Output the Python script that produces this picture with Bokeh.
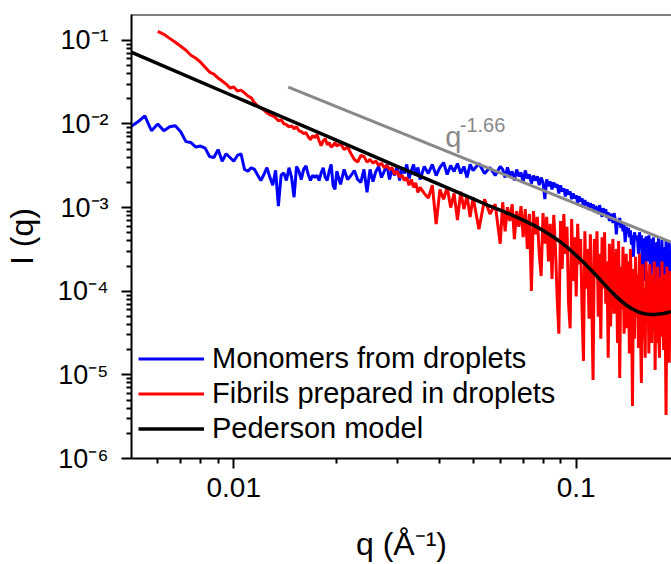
from bokeh.plotting import figure
from bokeh.models import FixedTicker, Span, Label, Legend, LegendItem, Range1d
from bokeh.embed import file_html
from bokeh.resources import INLINE

# ---------------- data ----------------
q_low = [0.00500, 0.00525, 0.00550, 0.00575, 0.00600, 0.00625, 0.00650, 0.00675, 0.00700, 0.00725,
         0.00750, 0.00775, 0.00800, 0.00825, 0.00850, 0.00875, 0.00900, 0.00925, 0.00950, 0.00975,
         0.01000, 0.01025, 0.01050, 0.01075, 0.01100, 0.01125, 0.01150, 0.01175, 0.01200, 0.01225,
         0.01250, 0.01275, 0.01300, 0.01325, 0.01350, 0.01375, 0.01400, 0.01425, 0.01450, 0.01475,
         0.01500, 0.01525, 0.01550, 0.01575, 0.01600, 0.01625, 0.01650, 0.01675, 0.01700, 0.01725,
         0.01750, 0.01775, 0.01800, 0.01825, 0.01850, 0.01875, 0.01900, 0.01925, 0.01950, 0.01975,
         0.02000]
q_mid = [0.0205, 0.0210, 0.0215, 0.0220, 0.0225, 0.0230, 0.0235, 0.0240, 0.0245, 0.0250,
         0.0255, 0.0260, 0.0265, 0.0270, 0.0275, 0.0280, 0.0285, 0.0290, 0.0295, 0.0300,
         0.0305, 0.0310, 0.0315, 0.0320, 0.0325, 0.0330, 0.0335, 0.0340, 0.0345, 0.0350,
         0.036, 0.037, 0.038, 0.039, 0.040, 0.041, 0.042, 0.043, 0.044, 0.045,
         0.046, 0.047, 0.048, 0.049, 0.050, 0.052, 0.054, 0.056, 0.058, 0.060]
q_high = [0.061, 0.062, 0.063, 0.064, 0.065, 0.066, 0.067, 0.068, 0.069, 0.070,
          0.071, 0.072, 0.073, 0.074, 0.075, 0.076, 0.077, 0.078, 0.079, 0.080,
          0.081, 0.082, 0.083, 0.084, 0.085, 0.086, 0.087, 0.088, 0.089, 0.090,
          0.091, 0.092, 0.093, 0.094, 0.095, 0.096, 0.097, 0.098, 0.099, 0.100,
          0.101, 0.102, 0.103, 0.104, 0.105, 0.106, 0.107, 0.108, 0.109, 0.110,
          0.111, 0.112, 0.113, 0.114, 0.115, 0.116, 0.117, 0.118, 0.119, 0.120,
          0.121, 0.122, 0.123, 0.124, 0.125, 0.126, 0.127, 0.128, 0.129, 0.130,
          0.131, 0.132, 0.133, 0.134, 0.135, 0.136, 0.137, 0.138, 0.139, 0.140,
          0.141, 0.142, 0.143, 0.144, 0.145, 0.146, 0.147, 0.148, 0.149, 0.150,
          0.151, 0.152, 0.153, 0.154, 0.155, 0.156, 0.157, 0.158, 0.159, 0.160,
          0.161, 0.162, 0.163, 0.164, 0.165, 0.166, 0.167, 0.168, 0.169, 0.170,
          0.171, 0.172, 0.173, 0.174, 0.175, 0.176, 0.177, 0.178, 0.179, 0.180,
          0.181, 0.182, 0.183, 0.184, 0.185, 0.186, 0.187, 0.188, 0.189, 0.190]

monomer_low = [9.26e-3, 1.06e-2, 1.25e-2, 8.30e-3, 1.00e-2, 8.30e-3, 9.26e-3, 9.5e-3, 8.08e-3, 6.15e-3,
               6.0e-3, 5.3e-3, 5.45e-3, 5.15e-3, 4.08e-3, 3.97e-3, 4.94e-3, 3.58e-3, 4.4e-3, 3.97e-3,
               3.58e-3, 4.2e-3, 4.4e-3, 2.86e-3, 2.73e-3, 3.0e-3, 2.86e-3, 2.44e-3, 2.11e-3, 2.49e-3,
               3.0e-3, 2.3e-3, 1.85e-3, 2.79e-3, 1.04e-3, 2.44e-3, 2.6e-3, 2.11e-3, 3.0e-3, 2.3e-3,
               1.33e-3, 3.1e-3, 2.73e-3, 2.17e-3, 2.86e-3, 3.15e-3, 2.49e-3, 2.11e-3, 2.44e-3, 2.3e-3,
               2.44e-3, 2.11e-3, 2.6e-3, 3.0e-3, 2.3e-3, 2.11e-3, 2.73e-3, 3.28e-3, 1.85e-3, 1.65e-3,
               2.73e-3]
monomer_mid = [1.90e-3, 2.86e-3, 2.17e-3, 2.42e-3, 2.78e-3, 2.17e-3, 2.0e-3, 2.86e-3, 1.52e-3, 2.86e-3,
               2.05e-3, 2.71e-3, 3.1e-3, 2.29e-3, 2.71e-3, 3.28e-3, 2.17e-3, 2.86e-3, 2.42e-3, 3.19e-3,
               2.11e-3, 3.02e-3, 2.56e-3, 3.28e-3, 2.23e-3, 2.78e-3, 3.28e-3, 2.42e-3, 3.02e-3, 2.17e-3,
               3.1e-3, 2.56e-3, 3.28e-3, 2.42e-3, 3.02e-3, 3.46e-3, 2.49e-3, 3.19e-3, 2.71e-3, 3.37e-3,
               2.56e-3, 3.1e-3, 2.29e-3, 3.28e-3, 2.78e-3, 3.37e-3, 2.56e-3, 3.02e-3, 2.42e-3, 3.1e-3]
monomer_high = [2.86e-3, 2.29e-3, 3.02e-3, 2.42e-3, 2.71e-3, 2.11e-3, 2.86e-3, 2.36e-3, 2.63e-3, 2.0e-3,
                2.78e-3, 2.23e-3, 2.49e-3, 1.94e-3, 2.42e-3, 2.11e-3, 2.36e-3, 1.85e-3, 2.29e-3, 2.0e-3,
                1.26e-3, 2.17e-3, 1.80e-3, 2.05e-3, 1.65e-3, 2.0e-3, 1.75e-3, 1.90e-3, 1.48e-3, 1.85e-3,
                1.56e-3, 1.70e-3, 1.36e-3, 1.65e-3, 1.44e-3, 1.56e-3, 1.26e-3, 1.48e-3, 1.29e-3, 1.40e-3,
                1.13e-3, 1.36e-3, 1.19e-3, 1.29e-3, 1.01e-3, 1.23e-3, 1.07e-3, 1.16e-3, 9.34e-4, 1.13e-3,
                9.86e-4, 1.10e-3, 8.84e-4, 1.04e-3, 9.6e-4, 8.4e-4, 1.07e-3, 9.09e-4, 7.74e-4, 9.86e-4,
                8.6e-4, 9.6e-4, 7.53e-4, 8.84e-4, 6.91e-4, 8.4e-4, 7.95e-4, 6.54e-4, 8.6e-4, 7.3e-4,
                4.8e-4, 7.1e-4, 6.23e-4, 7.53e-4, 5.73e-4, 6.54e-4, 5.21e-4, 6.23e-4, 3.87e-4, 5.9e-4,
                4.93e-4, 5.73e-4, 4.42e-4, 5.35e-4, 3.6e-4, 4.67e-4, 2.58e-4, 5.07e-4, 4.09e-4, 4.55e-4,
                4.42e-4, 2.8e-4, 5.07e-4, 3.98e-4, 4.67e-4, 1.96e-4, 4.3e-4, 3.7e-4, 1.33e-4, 4.55e-4,
                3.87e-4, 2.27e-4, 4.67e-4, 3.41e-4, 1.07e-4, 4.2e-4, 2.8e-4, 4.42e-4, 1.6e-4, 3.76e-4,
                9.4e-5, 3.87e-4, 2.8e-4, 4.42e-4, 4.97e-5, 3.5e-4, 2.07e-4, 4.09e-4, 7.77e-5, 3.32e-4,
                3.2e-4, 4.33e-5, 4.2e-4, 1.4e-4, 3.03e-4, 5.4e-5, 3.87e-4, 9.15e-5, 3.2e-4, 6.72e-5]

fibril_low = [0.128, 0.118, 0.1056, 0.0947, 0.0849, 0.0761, 0.0664, 0.0611, 0.0548, 0.0478,
              0.0417, 0.0395, 0.0354, 0.0326, 0.0300, 0.0269, 0.0277, 0.0248, 0.0254, 0.0235,
              0.0216, 0.0205, 0.0179, 0.01645, 0.01557, 0.0147, 0.01359, 0.01286, 0.01255, 0.01185,
              0.0109, 0.0112, 0.0101, 0.0098, 0.00926, 0.0095, 0.00877, 0.00926, 0.0083, 0.00808,
              0.00766, 0.00785, 0.00705, 0.00649, 0.00725, 0.00686, 0.00745, 0.0063, 0.00551, 0.0063,
              0.00665, 0.00565, 0.0060, 0.0053, 0.00551, 0.0060, 0.00545]
fibril_mid = [5.85e-3, 4.94e-3, 5.3e-3, 4.4e-3, 3.76e-3, 3.5e-3, 4.2e-3, 4.1e-3, 3.5e-3, 3.76e-3,
              3.4e-3, 3.6e-3, 3.2e-3, 3.4e-3, 3.0e-3, 3.2e-3, 2.86e-3, 3.0e-3, 2.49e-3, 2.73e-3,
              2.3e-3, 2.44e-3, 2.11e-3, 2.3e-3, 1.85e-3, 2.17e-3, 1.75e-3, 1.97e-3, 1.52e-3, 1.75e-3,
              1.48e-3, 1.3e-3, 1.85e-3, 6.35e-4, 1.65e-3, 1.26e-3, 1.75e-3, 1.0e-3, 1.48e-3, 7.1e-4,
              1.55e-3, 9.6e-4, 1.38e-3, 7.7e-4, 1.33e-3, 5.5e-4, 1.26e-3, 8.4e-4, 1.1e-3, 3.7e-4]
fibril_high = [1.16e-3, 5.21e-4, 1.01e-3, 6.91e-4, 1.10e-3, 4.2e-4, 9.09e-4, 5.9e-4, 1.04e-3, 4.42e-4,
               9.6e-4, 3.2e-4, 8.4e-4, 1.01e-4, 9.09e-4, 4.8e-4, 7.74e-4, 2.8e-4, 1.52e-4, 8.6e-4,
               3.7e-4, 7.74e-4, 2.27e-4, 6.4e-4, 1.4e-4, 8.17e-4, 3.2e-4, 8.2e-5, 3.1e-5, 6.91e-4,
               1.85e-4, 8.4e-4, 2.8e-4, 5.9e-4, 7.1e-5, 3.6e-5, 7.3e-4, 1.33e-4, 4.42e-4, 8.66e-5,
               6.4e-4, 2.1e-4, 4.2e-4, 6.2e-5, 1.47e-5, 5.21e-4, 1.07e-4, 3.2e-4, 4.7e-5, 4.8e-4,
               8.2e-5, 8.7e-6, 4.2e-4, 1.6e-4, 5.21e-4, 4.97e-5, 2.8e-4, 2.7e-5, 4.42e-4, 1.07e-4,
               5.07e-4, 7.1e-5, 2.27e-4, 1.6e-5, 3.7e-4, 3.78e-5, 1.85e-4, 4.2e-4, 5.4e-5, 1.23e-4,
               3.2e-4, 2.4e-5, 3.98e-4, 9.2e-6, 1.96e-4, 6.2e-5, 3.41e-4, 3.1e-5, 1.07e-4, 2.8e-4,
               3.6e-5, 2.27e-4, 1.8e-5, 3.2e-4, 8.2e-5, 4.24e-6, 1.85e-4, 2.7e-5, 2.58e-4, 4.97e-5,
               1.6e-4, 2.1e-5, 2.8e-4, 4.1e-5, 8.0e-6, 2.1e-4, 2.7e-5, 1.07e-4, 1.6e-5, 2.27e-4,
               4.7e-5, 1.75e-4, 1.8e-5, 2.1e-4, 7.1e-5, 2.4e-5, 1.6e-4, 3.6e-5, 2.27e-4, 1.14e-5,
               1.23e-4, 2.4e-5, 1.96e-4, 4.1e-5, 1.6e-5, 1.47e-4, 2.86e-5, 2.27e-4, 6.2e-5, 1.99e-5,
               1.6e-4, 3.6e-5, 3.31e-6, 1.96e-4, 2.4e-5, 1.07e-4, 1.4e-5, 1.75e-4, 4.7e-5, 8.2e-5]

q_model = [0.005, 0.01, 0.02, 0.03, 0.04, 0.05, 0.055, 0.06, 0.065, 0.07, 0.075, 0.08, 0.085,
           0.09, 0.095, 0.10, 0.105, 0.11, 0.115, 0.12, 0.125, 0.13, 0.135, 0.14, 0.145, 0.15,
           0.155, 0.16, 0.165, 0.17, 0.175, 0.18, 0.185, 0.19]
I_model = [0.0726, 0.02145, 6.37e-3, 3.12e-3, 1.88e-3, 1.27e-3, 1.074e-3, 9.31e-4, 8.12e-4, 7.09e-4,
           6.18e-4, 5.32e-4, 4.57e-4, 3.88e-4, 3.25e-4, 2.68e-4, 2.22e-4, 1.83e-4, 1.51e-4, 1.25e-4,
           1.045e-4, 8.87e-5, 7.73e-5, 6.84e-5, 6.21e-5, 5.80e-5, 5.49e-5, 5.35e-5, 5.27e-5, 5.27e-5,
           5.35e-5, 5.42e-5, 5.57e-5, 5.72e-5]

q_powerlaw = [0.01443, 0.20]
I_powerlaw = [0.02765, 3.52e-4]

x_major = [0.01, 0.1]
x_minor = [0.006, 0.007, 0.008, 0.009, 0.02, 0.03, 0.04, 0.05, 0.06, 0.07, 0.08, 0.09]
x_labels = {0.01: "0.01", 0.1: "0.1"}
y_major = [1e-6, 1e-5, 1e-4, 1e-3, 1e-2, 1e-1]
y_minor = [2e-6, 3e-6, 4e-6, 5e-6, 6e-6, 7e-6, 8e-6, 9e-6,
           2e-5, 3e-5, 4e-5, 5e-5, 6e-5, 7e-5, 8e-5, 9e-5,
           2e-4, 3e-4, 4e-4, 5e-4, 6e-4, 7e-4, 8e-4, 9e-4,
           2e-3, 3e-3, 4e-3, 5e-3, 6e-3, 7e-3, 8e-3, 9e-3,
           2e-2, 3e-2, 4e-2, 5e-2, 6e-2, 7e-2, 8e-2, 9e-2]
y_labels = {1e-6: "10\u207b\u2076", 1e-5: "10\u207b\u2075", 1e-4: "10\u207b\u2074",
            1e-3: "10\u207b\u00b3", 1e-2: "10\u207b\u00b2", 1e-1: "10\u207b\u00b9"}

# ---------------- figure ----------------
FONT = "Liberation Sans"
x_lo, x_hi = 0.005028, 0.1898
y_lo, y_hi = 1e-6, 0.2037

p = figure(width=671, height=564, x_axis_type="log", y_axis_type="log",
           x_range=Range1d(x_lo, x_hi), y_range=Range1d(y_lo, y_hi),
           output_backend="svg", toolbar_location=None,
           min_border_left=127, min_border_right=0, min_border_top=14, min_border_bottom=102)
p.outline_line_color = None
p.xgrid.visible = False
p.ygrid.visible = False
p.background_fill_color = "white"
p.border_fill_color = "white"

q_mono = q_low + q_mid + q_high
I_mono = monomer_low + monomer_mid + monomer_high
q_fib = q_low[4:] + q_mid + q_high
I_fib = fibril_low + fibril_mid + fibril_high

r_mono = p.line(q_mono, I_mono, line_color="#0000ff", line_width=3)
r_fib = p.line(q_fib, I_fib, line_color="#ff0000", line_width=3)
r_model = p.line(q_model, I_model, line_color="black", line_width=3.5)
p.line(q_powerlaw, I_powerlaw, line_color="#888888", line_width=3)

p.add_layout(Span(location=y_hi, dimension="width", line_color="black", line_width=2))

p.add_layout(Label(x=0.04144, y=0.00705, text="q", text_font=FONT, text_font_size="29px",
                   text_color="#888888", text_baseline="alphabetic"))
p.add_layout(Label(x=0.0457, y=0.00985, text="-1.66", text_font=FONT, text_font_size="20px",
                   text_color="#888888", text_baseline="alphabetic"))

xa = p.xaxis[0]
ya = p.yaxis[0]
xa.ticker = FixedTicker(ticks=x_major, minor_ticks=x_minor)
ya.ticker = FixedTicker(ticks=y_major, minor_ticks=y_minor)
xa.major_label_overrides = x_labels
ya.major_label_overrides = y_labels
xa.axis_label = "q (\u00c5\u207b\u00b9)"
ya.axis_label = "I (q)"
for ax in (xa, ya):
    ax.axis_line_width = 2
    ax.axis_line_color = "black"
    ax.major_tick_line_width = 2
    ax.minor_tick_line_width = 2
    ax.major_tick_out = 10
    ax.major_tick_in = 0
    ax.minor_tick_out = 5
    ax.minor_tick_in = 0
    ax.major_label_text_font = FONT
    ax.major_label_text_color = "black"
    ax.axis_label_text_font = FONT
    ax.axis_label_text_font_size = "32px"
    ax.axis_label_text_font_style = "normal"
    ax.axis_label_text_color = "black"
xa.major_label_text_font_size = "28px"
ya.major_label_text_font_size = "27px"
xa.major_label_standoff = 9
ya.major_label_standoff = 13
xa.axis_label_standoff = 26
ya.axis_label_standoff = 15

legend = Legend(items=[LegendItem(label="Monomers from droplets", renderers=[r_mono]),
                       LegendItem(label="Fibrils prepared in droplets", renderers=[r_fib]),
                       LegendItem(label="Pederson model", renderers=[r_model])],
                location=(7, 12), orientation="vertical",
                border_line_color=None, background_fill_alpha=0,
                padding=0, margin=0, spacing=0,
                glyph_width=66, glyph_height=35, label_height=35,
                label_standoff=8, label_text_font=FONT, label_text_font_size="29px",
                label_text_color="black")
p.add_layout(legend)

open("out.html", "w").write(file_html(p, INLINE))
